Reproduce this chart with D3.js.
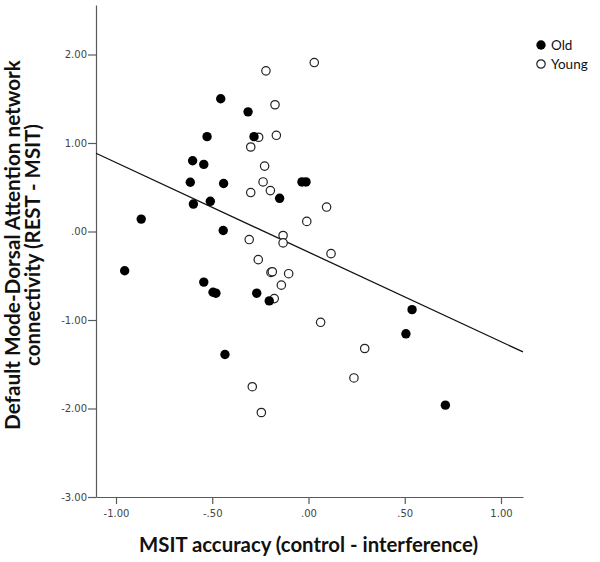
<!DOCTYPE html>
<html>
<head>
<meta charset="utf-8">
<script src="https://cdn.jsdelivr.net/npm/d3@7"></script>
<style>
  body { margin: 0; background: #fff; }
  svg { display: block; }
</style>
</head>
<body>
<div id="scatter"></div>
<script>
// Old group (filled markers): x = MSIT accuracy, y = DMN-DAN connectivity
var oldX = [-0.955, -0.869, -0.614, -0.602, -0.598, -0.544, -0.527, -0.510, -0.456, -0.441,
            -0.443, -0.544, -0.496, -0.481, -0.434, -0.314, -0.283, -0.269, -0.204, -0.150,
            -0.034, -0.013, 0.506, 0.538, 0.711];
var oldY = [-0.443, 0.140, 0.557, 0.799, 0.310, 0.758, 1.072, 0.341, 1.500, 0.542,
            0.011, -0.572, -0.686, -0.697, -1.390, 1.352, 1.072, -0.697, -0.784, 0.375,
            0.560, 0.560, -1.156, -0.883, -1.962];

// Young group (open markers)
var youngX = [-0.221, 0.030, -0.174, -0.259, -0.167, -0.300, -0.228, -0.236, -0.198, -0.300,
              0.094, -0.009, -0.308, -0.132, -0.132, 0.117, -0.261, -0.195, -0.188, -0.103,
              -0.141, -0.178, 0.063, 0.292, 0.236, -0.292, -0.245];
var youngY = [1.815, 1.909, 1.432, 1.065, 1.087, 0.955, 0.739, 0.560, 0.462, 0.440,
              0.276, 0.114, -0.091, -0.045, -0.129, -0.250, -0.318, -0.462, -0.455, -0.477,
              -0.606, -0.758, -1.026, -1.322, -1.655, -1.754, -2.045];

// Fit line: y = intercept + slope * x
var fitLine = [-0.233, -1.012];

var xTicks = [-1, -0.5, 0, 0.5, 1];
var yTicks = [-3, -2, -1, 0, 1, 2];
var groups = ["Old", "Young"];

// Layout
var width = 600, height = 562;
var x0 = 96, x1 = 523, yTop = 5, yBottom = 497;

var svg = d3.select("#scatter").append("svg")
    .attr("width", width)
    .attr("height", height);

var x = d3.scaleLinear()
    .domain([-1.1039, 1.1143])
    .range([x0, x1]);

var y = d3.scaleLinear()
    .domain([-3, 2.5593])
    .range([yBottom, yTop]);

// SPSS style: plain hyphen, no leading zero
function tickFmt(d) {
    var s = Math.abs(d).toFixed(2).replace(/^0\./, ".");
    return (d < 0 ? "-" : "") + s;
}

// Axes
var xAxis = svg.append("g")
    .attr("transform", "translate(0," + yBottom + ")")
    .call(d3.axisBottom(x).tickValues(xTicks).tickSize(7).tickSizeOuter(0).tickFormat(tickFmt));

var yAxis = svg.append("g")
    .attr("transform", "translate(" + x0 + ",0)")
    .call(d3.axisLeft(y).tickValues(yTicks).tickSize(8).tickSizeOuter(0).tickFormat(tickFmt));

[xAxis, yAxis].forEach(function(a) {
    a.select(".domain").attr("stroke", "#5a5a5a").attr("stroke-width", 1.2);
    a.selectAll(".tick line").attr("stroke", "#5a5a5a").attr("stroke-width", 1.2);
    a.selectAll(".tick text")
        .attr("fill", "#444")
        .style("font-family", "'DejaVu Sans', sans-serif")
        .style("font-size", "10px");
});
xAxis.selectAll(".tick text").attr("dy", "0.95em").attr("y", 10);
yAxis.selectAll(".tick text").attr("x", -9).attr("dy", "0.34em");

// Fit line
var xd = x.domain();
svg.append("line")
    .attr("x1", x(xd[0]))
    .attr("y1", y(fitLine[0] + fitLine[1] * xd[0]))
    .attr("x2", x(xd[1]))
    .attr("y2", y(fitLine[0] + fitLine[1] * xd[1]))
    .attr("stroke", "#111")
    .attr("stroke-width", 1.3);

// Points
var oldData = oldX.map(function(v, i) { return { x: v, y: oldY[i] }; });
var youngData = youngX.map(function(v, i) { return { x: v, y: youngY[i] }; });

svg.append("g").selectAll("circle")
    .data(youngData)
    .enter().append("circle")
    .attr("cx", function(d) { return x(d.x); })
    .attr("cy", function(d) { return y(d.y); })
    .attr("r", 4.2)
    .attr("fill", "#fff")
    .attr("stroke", "#222")
    .attr("stroke-width", 1.2);

svg.append("g").selectAll("circle")
    .data(oldData)
    .enter().append("circle")
    .attr("cx", function(d) { return x(d.x); })
    .attr("cy", function(d) { return y(d.y); })
    .attr("r", 4.7)
    .attr("fill", "#000");

// Legend
var legend = svg.append("g").selectAll("g")
    .data(groups)
    .enter().append("g")
    .attr("transform", function(d, i) { return "translate(541," + (45 + i * 19) + ")"; });

legend.append("circle")
    .attr("r", function(d, i) { return i === 0 ? 4.7 : 4.2; })
    .attr("fill", function(d, i) { return i === 0 ? "#000" : "#fff"; })
    .attr("stroke", function(d, i) { return i === 0 ? "none" : "#222"; })
    .attr("stroke-width", 1.2);

legend.append("text")
    .attr("x", 10)
    .attr("dy", "0.36em")
    .style("font-family", "Lato, 'Open Sans', sans-serif")
    .style("font-size", "13.5px")
    .attr("fill", "#111")
    .text(function(d) { return d; });

// Axis titles
function fitText(sel, target) {
    var w = sel.node().getComputedTextLength();
    var fs = parseFloat(sel.style("font-size"));
    sel.style("font-size", (fs * target / w) + "px");
}

var xTitle = svg.append("text")
    .attr("x", 308.5)
    .attr("y", 552)
    .attr("text-anchor", "middle")
    .style("font-family", "Lato, 'Open Sans', sans-serif")
    .style("font-weight", "bold")
    .style("font-size", "18px")
    .attr("fill", "#111")
    .text("MSIT accuracy (control - interference)");
fitText(xTitle, 339);

var yTitle1 = svg.append("text")
    .attr("transform", "translate(20,245) rotate(-90)")
    .attr("text-anchor", "middle")
    .style("font-family", "Lato, 'Open Sans', sans-serif")
    .style("font-weight", "bold")
    .style("font-size", "18px")
    .attr("fill", "#111")
    .text("Default Mode-Dorsal Attention network");
fitText(yTitle1, 370);

var yTitle2 = svg.append("text")
    .attr("transform", "translate(40,245) rotate(-90)")
    .attr("text-anchor", "middle")
    .style("font-family", "Lato, 'Open Sans', sans-serif")
    .style("font-weight", "bold")
    .style("font-size", "18px")
    .attr("fill", "#111")
    .text("connectivity (REST - MSIT)");
fitText(yTitle2, 242);
</script>
</body>
</html>
